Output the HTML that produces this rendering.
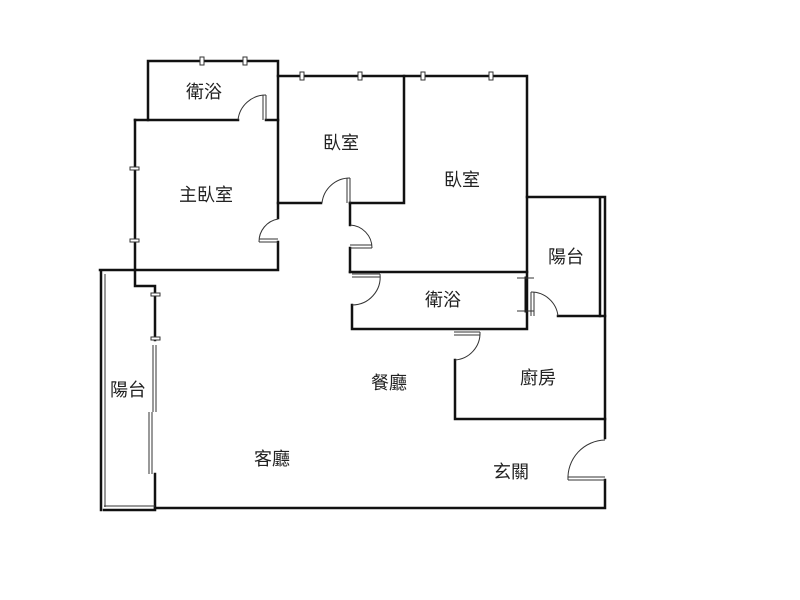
<!DOCTYPE html>
<html><head><meta charset="utf-8"><style>
html,body{margin:0;padding:0;background:#fff;}
svg{display:block;}
text{font-family:"Liberation Sans","Noto Sans CJK TC",sans-serif;font-size:18px;fill:#222;text-anchor:middle;dominant-baseline:central;}
</style></head><body>
<svg width="800" height="600" viewBox="0 0 800 600" xmlns="http://www.w3.org/2000/svg">
<g stroke="#111" stroke-width="2.5" fill="none" stroke-linecap="square">
<!-- master bath -->
<polyline points="148,120 148,61 278,61 278,218"/>
<line x1="135" y1="120" x2="238" y2="120"/>
<line x1="266" y1="120" x2="278" y2="120"/>
<!-- master bedroom -->
<polyline points="135,120 135,270 278,270 278,242"/>
<!-- bedroom 2 -->
<polyline points="278,76 527,76 527,272"/>
<line x1="278" y1="203" x2="321" y2="203"/>
<polyline points="350,203 404,203 404,76"/>
<line x1="350" y1="203" x2="350" y2="225"/>
<line x1="350" y1="248" x2="350" y2="272"/>
<!-- bath 2 -->
<polyline points="350,272 527,272 527,329 352,329 352,305"/>
<!-- balcony right -->
<polyline points="527,197 605,197 605,438"/>
<line x1="600" y1="199" x2="600" y2="316"/>
<line x1="558" y1="316" x2="605" y2="316"/>
<!-- kitchen -->
<polyline points="455,360 455,419 605,419"/>
<!-- bottom -->
<polyline points="605,480 605,508 155,508"/>
<!-- left balcony -->
<polyline points="100,270 135,270 135,286 155,286 155,340"/>
<line x1="101" y1="272" x2="101" y2="510"/>
<line x1="104" y1="510" x2="155" y2="510"/>
<line x1="155" y1="474" x2="155" y2="508"/>
<line x1="526" y1="278" x2="526" y2="311" stroke-width="3"/>
</g>
<g stroke="#333" stroke-width="1" fill="none">
<line x1="105" y1="274" x2="105" y2="507"/>
<line x1="104" y1="506" x2="155" y2="506"/>
<line x1="153" y1="345" x2="153" y2="412"/><line x1="156" y1="345" x2="156" y2="412"/>
<line x1="149" y1="412" x2="149" y2="474"/><line x1="152" y1="412" x2="152" y2="474"/>
<!-- door arcs -->
<path d="M266,95 A28,28 0 0 0 238,120"/><line x1="266" y1="95" x2="266" y2="120"/><line x1="263" y1="95" x2="263" y2="120"/>
<path d="M278,219 A23,23 0 0 0 259,242"/><line x1="259" y1="242" x2="278" y2="242"/><line x1="259" y1="239" x2="278" y2="239"/>
<path d="M350,178 A28,28 0 0 0 322,203"/><line x1="350" y1="178" x2="350" y2="203"/><line x1="347" y1="178" x2="347" y2="203"/>
<path d="M350,225 A23,23 0 0 1 372,248"/><line x1="350" y1="248" x2="372" y2="248"/><line x1="350" y1="245" x2="372" y2="245"/>
<path d="M380,274 A28,28 0 0 1 352,305"/><line x1="352" y1="274" x2="380" y2="274"/><line x1="352" y1="277" x2="380" y2="277"/>
<path d="M531,292 A27,27 0 0 1 558,316"/><line x1="531" y1="292" x2="531" y2="316"/><line x1="534" y1="292" x2="534" y2="316"/>
<path d="M480,332 A27,27 0 0 1 455,360"/><line x1="454" y1="332" x2="480" y2="332"/><line x1="454" y1="335" x2="480" y2="335"/>
<path d="M605,440 A38,38 0 0 0 568,480"/><line x1="568" y1="480" x2="605" y2="480"/><line x1="568" y1="477" x2="605" y2="477"/>
<!-- I-beam bars -->
<line x1="517" y1="278" x2="534" y2="278"/><line x1="517" y1="311" x2="534" y2="311"/>
</g>
<g fill="#fff" stroke="#333" stroke-width="1">
<rect x="200" y="57" width="4" height="8"/><rect x="243" y="57" width="4" height="8"/>
<rect x="300" y="72" width="4" height="8"/><rect x="358" y="72" width="4" height="8"/>
<rect x="421" y="72" width="4" height="8"/><rect x="489" y="72" width="4" height="8"/>
<rect x="130" y="167" width="9" height="3"/><rect x="130" y="239" width="9" height="3"/>
<rect x="151" y="293" width="9" height="3"/><rect x="151" y="337" width="9" height="3"/>
</g>
<text x="204" y="92">衛浴</text>
<text x="341" y="143">臥室</text>
<text x="206" y="195">主臥室</text>
<text x="462" y="180">臥室</text>
<text x="566" y="257">陽台</text>
<text x="443" y="300">衛浴</text>
<text x="389" y="383">餐廳</text>
<text x="538" y="378">廚房</text>
<text x="128" y="390">陽台</text>
<text x="272" y="459">客廳</text>
<text x="511" y="472">玄關</text>
</svg>
</body></html>
